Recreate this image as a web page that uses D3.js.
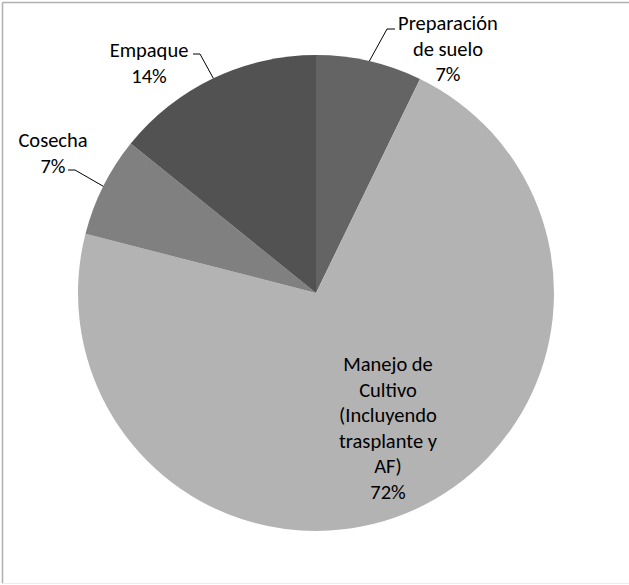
<!DOCTYPE html>
<html>
<head>
<meta charset="utf-8">
<script src="https://cdn.jsdelivr.net/npm/d3@7"></script>
<style>
  html, body { margin: 0; padding: 0; background: #fff; }
  svg { display: block; }
  text { font-family: Carlito, Calibri, Lato, sans-serif; fill: #000; }
</style>
</head>
<body>
<script>
// ---- data ----
const categories = ["Preparación de suelo", "Manejo de Cultivo (Incluyendo trasplante y AF)", "Cosecha", "Empaque"];
const values = [7.2, 71.8, 6.8, 14.2];
const labelLines = [
  ["Preparación", "de suelo"],
  ["Manejo de", "Cultivo", "(Incluyendo", "trasplante y", "AF)"],
  ["Cosecha"],
  ["Empaque"]
];
const colors = ["#646464", "#b3b3b3", "#808080", "#525252"];

// ---- layout ----
const W = 629, H = 585;
const cx = 316, cy = 293, R = 238;
const fontSize = 20.5, lh = 25.5;

// label placement relative to pie centre (x = text centre, y = first baseline)
const labelPos = [
  { x: 132, y: -263, leader: true, elbow: [71, -264], end: [79, -264] },
  { x: 72, y: 78, leader: false },
  { x: -263, y: -146, leader: true, elbow: [-241, -123], end: [-248, -123] },
  { x: -167, y: -236, leader: true, elbow: [-116, -239], end: [-123, -239] }
];

const svg = d3.select("body").append("svg").attr("width", W).attr("height", H);

// frame
svg.append("line").attr("x1", 2.5).attr("y1", 2.5).attr("x2", W).attr("y2", 2.5)
  .attr("stroke", "#b0b0b0").attr("stroke-width", 1.5);
svg.append("line").attr("x1", 2.5).attr("y1", 2.5).attr("x2", 2.5).attr("y2", H - 1.5)
  .attr("stroke", "#b0b0b0").attr("stroke-width", 1.5);
svg.append("line").attr("x1", 2.5).attr("y1", H - 1.5).attr("x2", W).attr("y2", H - 1.5)
  .attr("stroke", "#ececec").attr("stroke-width", 1);

const total = d3.sum(values);
const pie = d3.pie().sort(null).value(d => d);
const arcs = pie(values);
const arc = d3.arc().innerRadius(0).outerRadius(R);

const g = svg.append("g").attr("transform", `translate(${cx},${cy})`);

g.selectAll("path.slice").data(arcs).enter().append("path")
  .attr("class", "slice")
  .attr("d", arc)
  .attr("fill", (d, i) => colors[i]);

// leader lines
arcs.forEach((d, i) => {
  const p = labelPos[i];
  if (!p.leader) return;
  const mid = (d.startAngle + d.endAngle) / 2;
  const sx = Math.sin(mid) * R, sy = -Math.cos(mid) * R;
  g.append("path")
    .attr("d", d3.line()([[sx, sy], p.elbow, p.end]))
    .attr("fill", "none").attr("stroke", "#000").attr("stroke-width", 1);
});

// labels
arcs.forEach((d, i) => {
  const p = labelPos[i];
  const pct = Math.round(values[i] / total * 100) + "%";
  const lines = labelLines[i].concat([pct]);
  const t = g.append("text")
    .attr("text-anchor", "middle")
    .attr("font-size", fontSize)
    .attr("x", p.x).attr("y", p.y);
  lines.forEach((ln, k) => {
    t.append("tspan").attr("x", p.x).attr("y", p.y + k * lh).text(ln);
  });
});
</script>
</body>
</html>
